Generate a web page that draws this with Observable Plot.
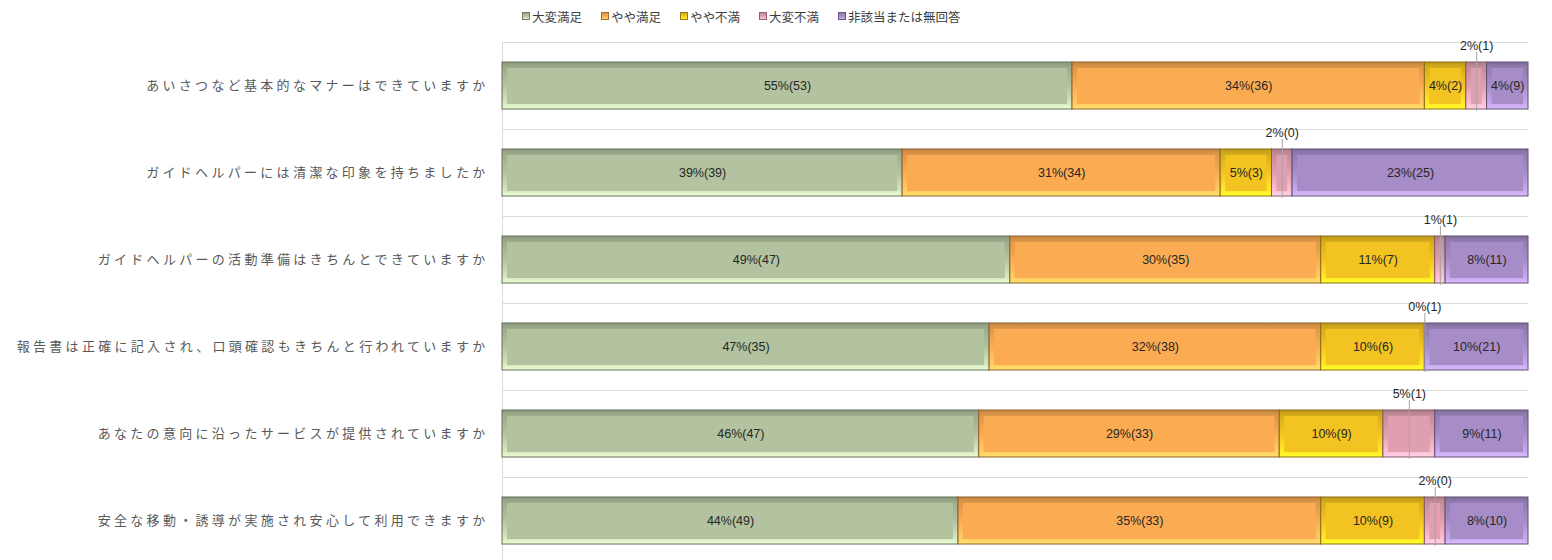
<!DOCTYPE html>
<html><head><meta charset="utf-8">
<script src="https://cdn.jsdelivr.net/npm/d3@7"></script>
<script src="https://cdn.jsdelivr.net/npm/@observablehq/plot@0.6"></script>
<style>
html,body{margin:0;padding:0;background:#fff;overflow:hidden;width:1552px;height:560px}
#legend{position:relative;height:32px;font-family:"Noto Sans CJK JP",sans-serif;font-size:12.5px;color:#404040;display:flex;align-items:center;gap:19px;padding-left:522px;box-sizing:border-box}
.item{display:flex;align-items:center;white-space:nowrap}
.sw{width:6px;height:6px;margin-right:2px;border:1px solid}
#chart svg{display:block}
</style></head><body>
<div id="legend"></div><div id="chart"></div>
<script>
const questions = [
  "あいさつなど基本的なマナーはできていますか",
  "ガイドヘルパーには清潔な印象を持ちましたか",
  "ガイドヘルパーの活動準備はきちんとできていますか",
  "報告書は正確に記入され、口頭確認もきちんと行われていますか",
  "あなたの意向に沿ったサービスが提供されていますか",
  "安全な移動・誘導が実施され安心して利用できますか"
];
const seriesNames = ["大変満足", "やや満足", "やや不満", "大変不満", "非該当または無回答"];
const seriesColors = ["#b3c39f", "#fbab52", "#f3c421", "#e09fb0", "#a68dc8"];

// percentages (bar widths) per series
const pctVerySatisfied   = [55, 39, 49, 47, 46, 44];
const pctSatisfied       = [34, 31, 30, 32, 29, 35];
const pctDissatisfied    = [4, 5, 11, 10, 10, 10];
const pctVeryDissatisfied= [2, 2, 1, 0, 5, 2];
const pctNoAnswer        = [4, 23, 8, 10, 9, 8];
// counts shown in parentheses
const nVerySatisfied     = [53, 39, 47, 35, 47, 49];
const nSatisfied         = [36, 34, 35, 38, 33, 33];
const nDissatisfied      = [2, 3, 7, 6, 9, 9];
const nVeryDissatisfied  = [1, 0, 1, 1, 1, 0];
const nNoAnswer          = [9, 25, 11, 21, 11, 10];

const pcts = [pctVerySatisfied, pctSatisfied, pctDissatisfied, pctVeryDissatisfied, pctNoAnswer];
const counts = [nVerySatisfied, nSatisfied, nDissatisfied, nVeryDissatisfied, nNoAnswer];

const data = [];
questions.forEach((q, qi) => {
  seriesNames.forEach((s, si) => {
    data.push({question: q, series: s, si, pct: pcts[si][qi], label: `${pcts[si][qi]}%(${counts[si][qi]})`});
  });
});

// legend
const legend = document.getElementById("legend");
seriesNames.forEach((s, i) => {
  const c = d3.color(seriesColors[i]);
  const it = document.createElement("div");
  it.className = "item";
  it.innerHTML = `<span class="sw" style="background:linear-gradient(${c.darker(0.4)},${c},${c.brighter(0.6)});border-color:${c.darker(1.3)}"></span><span>${s}</span>`;
  legend.appendChild(it);
});

const stackOpts = (o) => Plot.stackX({offset: "normalize", x: "pct", y: "question", z: "series", ...o});

const chart = Plot.plot({
  width: 1552,
  height: 532,
  marginLeft: 502,
  marginRight: 24,
  marginTop: 10,
  marginBottom: 0,
  style: {fontFamily: '"Noto Sans CJK JP", sans-serif', fontSize: "13px", color: "#595959", background: "transparent"},
  x: {domain: [0, 1], axis: null},
  y: {domain: questions, paddingInner: 0.46, paddingOuter: 0.23, label: null},
  color: {type: "identity"},
  marks: [
    Plot.ruleY(questions, {y: d => d, dy: -43.5, stroke: "#d9d9d9"}),
    Plot.ruleX([0], {stroke: "#d9d9d9"}),
    Plot.barX(data, stackOpts({
      fill: d => `url(#bev${d.si})`,
      stroke: d => d3.color(seriesColors[d.si]).darker(1.6).formatHex(),
      strokeWidth: 1
    })),
    Plot.barX(data, stackOpts({
      fill: d => seriesColors[d.si],
      insetLeft: 5, insetRight: 5, insetTop: 6, insetBottom: 5
    })),
    Plot.tickX(data, stackOpts({
      stroke: d => d.si === 3 ? "#a6a6a6" : "none",
      insetTop: -10,
      insetBottom: -2
    })),
    Plot.text(data, stackOpts({
      text: d => d.si === 3 ? "" : d.label,
      fill: "#262626",
      fontSize: 12.5,
      fontFamily: '"Liberation Sans", sans-serif'
    })),
    Plot.text(data, stackOpts({
      text: d => d.si === 3 ? d.label : "",
      fill: "#262626",
      fontSize: 12.5,
      dy: -40,
      fontFamily: '"Liberation Sans", sans-serif'
    })),
    Plot.axisY({tickSize: 0, tickPadding: 14, fontSize: 13, fill: "#595959"})
  ]
});

// gradient defs for bevel look
const ns = "http://www.w3.org/2000/svg";
const defs = document.createElementNS(ns, "defs");
seriesColors.forEach((hex, i) => {
  const c = d3.color(hex);
  const g = document.createElementNS(ns, "linearGradient");
  g.setAttribute("id", `bev${i}`);
  g.setAttribute("x1", "0"); g.setAttribute("y1", "0");
  g.setAttribute("x2", "0"); g.setAttribute("y2", "1");
  [[0, c.darker(0.7)], [0.12, c.darker(0.35)], [0.5, c], [0.88, c.brighter(0.5)], [1, c.brighter(0.8)]].forEach(([o, col]) => {
    const s = document.createElementNS(ns, "stop");
    s.setAttribute("offset", o);
    s.setAttribute("stop-color", col.formatHex());
    g.appendChild(s);
  });
  defs.appendChild(g);
});
chart.insertBefore(defs, chart.firstChild);
chart.querySelectorAll('[aria-label="y-axis tick label"] text').forEach(t => t.setAttribute("letter-spacing", "3.3"));

document.getElementById("chart").appendChild(chart);
</script>
</body></html>
